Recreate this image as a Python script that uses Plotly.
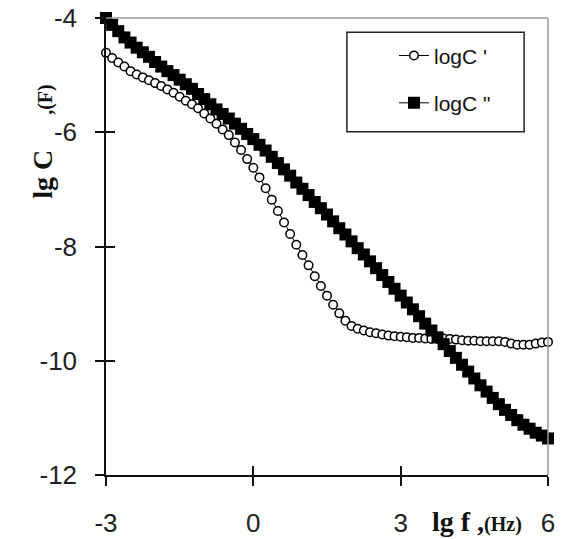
import plotly.graph_objects as go

# lg f (Hz)
lg_f = [-3.000, -2.875, -2.750, -2.625, -2.500, -2.375, -2.250, -2.125, -2.000,
        -1.875, -1.750, -1.625, -1.500, -1.375, -1.250, -1.125, -1.000,
        -0.875, -0.750, -0.625, -0.500, -0.375, -0.250, -0.125, 0.000,
        0.125, 0.250, 0.375, 0.500, 0.625, 0.750, 0.875, 1.000,
        1.125, 1.250, 1.375, 1.500, 1.625, 1.750, 1.875, 2.000,
        2.125, 2.250, 2.375, 2.500, 2.625, 2.750, 2.875, 3.000,
        3.125, 3.250, 3.375, 3.500, 3.625, 3.750, 3.875, 4.000,
        4.125, 4.250, 4.375, 4.500, 4.625, 4.750, 4.875, 5.000,
        5.125, 5.250, 5.375, 5.500, 5.625, 5.750, 5.875, 6.000]

# logC'
logC1 = [-4.61, -4.70, -4.78, -4.85, -4.93, -4.99, -5.04, -5.09, -5.14,
         -5.19, -5.25, -5.31, -5.38, -5.45, -5.51, -5.58, -5.67,
         -5.76, -5.85, -5.95, -6.05, -6.18, -6.31, -6.47, -6.62,
         -6.79, -6.98, -7.18, -7.38, -7.58, -7.78, -7.97, -8.15,
         -8.33, -8.52, -8.69, -8.86, -9.02, -9.17, -9.30, -9.39,
         -9.44, -9.47, -9.50, -9.52, -9.54, -9.56, -9.57, -9.58,
         -9.59, -9.60, -9.60, -9.61, -9.62, -9.62, -9.61, -9.62,
         -9.63, -9.64, -9.65, -9.65, -9.66, -9.66, -9.66, -9.66,
         -9.67, -9.70, -9.72, -9.72, -9.72, -9.70, -9.68, -9.67]

# logC''
logC2 = [-4.00, -4.12, -4.23, -4.34, -4.43, -4.52, -4.60, -4.68, -4.77,
         -4.85, -4.93, -5.00, -5.08, -5.16, -5.24, -5.33, -5.42,
         -5.51, -5.60, -5.68, -5.76, -5.85, -5.94, -6.03, -6.12,
         -6.22, -6.32, -6.43, -6.54, -6.65, -6.76, -6.88, -6.99,
         -7.10, -7.22, -7.33, -7.44, -7.56, -7.68, -7.79, -7.91,
         -8.03, -8.14, -8.26, -8.38, -8.50, -8.62, -8.74, -8.86,
         -8.98, -9.10, -9.22, -9.35, -9.47, -9.59, -9.71, -9.83,
         -9.95, -10.07, -10.19, -10.31, -10.43, -10.54, -10.65, -10.76,
         -10.86, -10.95, -11.04, -11.12, -11.19, -11.26, -11.31, -11.36]

x_ticks = [-3, 0, 3, 6]
y_ticks = [-12, -10, -8, -6, -4]

fig = go.Figure()
fig.add_trace(go.Scatter(
    x=lg_f, y=logC1, mode="lines+markers", name="logC '",
    legendgroup="a", cliponaxis=False,
    line=dict(color="black", width=1),
    marker=dict(symbol="circle", size=8.5, color="white",
                line=dict(color="black", width=1.5)),
))
fig.add_trace(go.Scatter(
    x=lg_f, y=logC2, mode="lines+markers", name="logC \"",
    legendgroup="b", cliponaxis=False, xaxis="x2", yaxis="y2",
    line=dict(color="black", width=1),
    marker=dict(symbol="square", size=12, color="black",
                line=dict(color="black", width=0)),
))

tickfont = dict(family="Liberation Sans, Arial, sans-serif", size=26, color="#222")
NB = "\u00a0"

# page body has an 8px margin, so the figure is 8px smaller than the window
fig.update_layout(
    width=574, height=531,
    margin=dict(l=98, r=34, t=10, b=64),
    paper_bgcolor="white", plot_bgcolor="white",
    showlegend=True,
    legend=dict(
        x=0.6516, y=0.962, xanchor="left", yanchor="top",
        bgcolor="rgba(0,0,0,0)", borderwidth=0,
        font=dict(family="Liberation Sans, Arial, sans-serif", size=21, color="#111"),
        traceorder="grouped", tracegroupgap=17,
        itemsizing="trace",
    ),
    xaxis=dict(
        range=[-3, 6], tickvals=x_ticks, ticktext=[str(v) for v in x_ticks],
        showgrid=False, zeroline=False, automargin=False,
        showline=True, linecolor="#111", linewidth=1.5,
        ticks="outside", ticklen=9, tickwidth=1.5, tickcolor="#111",
        tickfont=tickfont, ticklabelstandoff=15, ticklabeloverflow="allow",
    ),
    yaxis=dict(
        range=[-12, -4], tickvals=y_ticks, ticktext=[str(v) for v in y_ticks],
        showgrid=False, zeroline=False, automargin=False,
        showline=True, linecolor="#111", linewidth=1.5,
        ticks="outside", ticklen=9, tickwidth=1.5, tickcolor="#111",
        tickfont=tickfont, ticklabelstandoff=13, ticklabeloverflow="allow",
    ),
    xaxis2=dict(
        overlaying="x", anchor="y2", side="bottom", range=[-3, 6], tickvals=x_ticks,
        showgrid=False, zeroline=False, showline=False, showticklabels=False,
        automargin=False,
        ticks="inside", ticklen=9, tickwidth=1.5, tickcolor="#111",
    ),
    yaxis2=dict(
        overlaying="y", anchor="x2", side="left", range=[-12, -4], tickvals=y_ticks,
        showgrid=False, zeroline=False, showline=False, showticklabels=False,
        automargin=False,
        ticks="inside", ticklen=9, tickwidth=1.5, tickcolor="#111",
    ),
    shapes=[
        dict(type="line", xref="paper", yref="paper", x0=0, x1=1, y0=1, y1=1,
             line=dict(color="#999", width=1.5)),
        dict(type="line", xref="paper", yref="paper", x0=1, x1=1, y0=0, y1=1,
             line=dict(color="#999", width=1.5)),
        dict(type="rect", xref="paper", yref="paper", x0=0.545, x1=0.946, y0=0.751, y1=0.969,
             line=dict(color="#222", width=1.5), fillcolor="rgba(0,0,0,0)", layer="above"),
    ],
    annotations=[
        dict(xref="paper", yref="paper", x=-0.1425, y=0.729, xanchor="center", yanchor="middle",
             textangle=-90, showarrow=False,
             text="<b>lg" + NB + "C</b>" + NB * 5 + "<b><span style='font-size:20px'>,(F)</span></b>",
             font=dict(family="Liberation Serif, Times New Roman, serif", size=28, color="#111")),
        dict(xref="paper", yref="paper", x=0.84, y=-0.1007, xanchor="center", yanchor="middle",
             showarrow=False,
             text="<b>lg f ,<span style='font-size:20px'>(Hz)</span></b>",
             font=dict(family="Liberation Serif, Times New Roman, serif", size=28, color="#111")),
    ],
)

fig.write_html("out.html")
